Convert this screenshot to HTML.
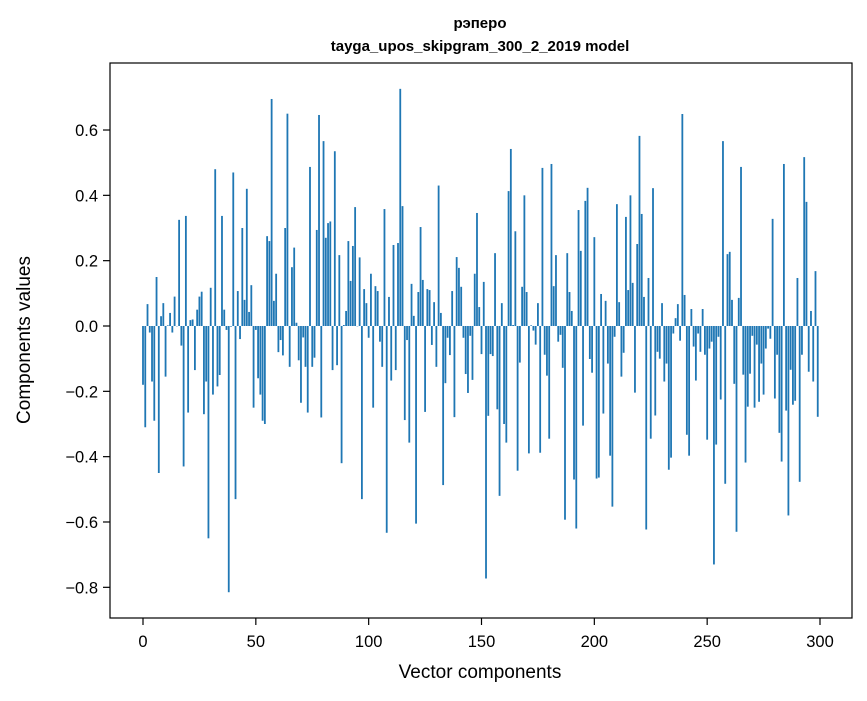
<!DOCTYPE html>
<html><head><meta charset="utf-8"><style>
body{margin:0;background:#fff;}
svg{font-family:"Liberation Sans","DejaVu Sans",sans-serif;}
</style></head><body>
<svg width="867" height="696" viewBox="0 0 867 696">
<rect width="867" height="696" fill="#fff"/>
<text x="480" y="28" text-anchor="middle" font-size="15" font-weight="bold">рэперо</text>
<text x="480" y="51" text-anchor="middle" font-size="15" font-weight="bold">tayga_upos_skipgram_300_2_2019 model</text>
<g id="bars"></g>
<g id="axes"></g>
<rect x="110" y="63" width="742" height="555" fill="none" stroke="#000" stroke-width="1.2"/>
<text x="480" y="678" text-anchor="middle" font-size="19">Vector components</text>
<text transform="translate(30,340) rotate(-90)" text-anchor="middle" font-size="19">Components values</text>
</svg>
<script>
const values = [
-0.18,-0.31,0.067,-0.02,-0.17,-0.29,0.15,-0.45,0.03,0.07,
-0.155,0.002,0.04,-0.02,0.09,0.0,0.325,-0.06,-0.43,0.337,
-0.265,0.018,0.02,-0.135,0.05,0.09,0.105,-0.27,-0.17,-0.65,
0.117,-0.21,0.48,-0.185,-0.15,0.337,0.05,-0.012,-0.815,-0.002,
0.47,-0.53,0.107,-0.04,0.30,0.08,0.42,0.043,0.125,-0.25,
-0.012,-0.16,-0.21,-0.29,-0.30,0.275,0.26,0.695,0.077,0.16,
-0.08,-0.043,-0.09,0.30,0.65,-0.125,0.18,0.24,0.01,-0.105,
-0.235,-0.035,-0.125,-0.265,0.487,-0.125,-0.097,0.294,0.646,-0.28,
0.566,0.27,0.315,0.32,-0.135,0.535,-0.12,0.217,-0.42,0.003,
0.046,0.26,0.138,0.245,0.364,0.0,0.21,-0.53,0.113,0.07,
-0.036,0.16,-0.25,0.122,0.107,-0.048,-0.125,0.358,-0.633,0.089,
-0.167,0.248,-0.135,0.254,0.726,0.367,-0.288,-0.043,-0.357,0.129,
0.031,-0.605,0.104,0.303,0.141,-0.263,0.113,0.11,-0.058,0.073,
-0.125,0.43,0.04,-0.487,-0.175,-0.036,-0.089,0.107,-0.279,0.211,
0.178,0.12,-0.036,-0.147,-0.205,-0.03,-0.165,0.16,0.346,0.058,
-0.086,0.135,-0.773,-0.275,-0.086,-0.092,0.223,-0.255,-0.52,0.07,
-0.30,-0.357,0.413,0.542,0.003,0.29,-0.443,-0.112,0.12,0.40,
0.104,-0.39,0.002,-0.014,-0.057,0.07,-0.388,0.484,-0.088,-0.152,
-0.345,0.496,0.122,0.217,-0.048,-0.027,-0.128,-0.593,0.223,0.104,
0.046,-0.47,-0.62,0.355,0.230,-0.305,0.383,0.423,-0.101,-0.143,
0.272,-0.467,-0.464,0.098,-0.268,0.077,-0.115,-0.397,-0.553,-0.033,
0.373,0.073,-0.155,-0.082,0.334,0.11,0.40,0.132,-0.204,0.251,
0.582,0.343,0.089,-0.623,0.147,-0.345,0.422,-0.274,-0.079,-0.10,
0.07,-0.17,-0.115,-0.44,-0.403,-0.023,0.024,0.067,-0.045,0.649,
0.095,-0.333,-0.397,0.052,-0.063,-0.167,-0.023,-0.079,0.052,-0.088,
-0.348,-0.069,-0.048,-0.73,-0.363,-0.033,-0.225,0.566,-0.483,0.22,
0.227,0.08,-0.177,-0.63,0.086,0.487,-0.149,-0.418,-0.247,-0.146,
-0.03,-0.25,-0.057,-0.232,-0.115,-0.21,-0.069,-0.008,-0.039,0.328,
-0.222,-0.088,-0.327,-0.415,0.496,-0.259,-0.58,-0.134,-0.241,-0.229,
0.147,-0.477,-0.088,0.517,0.38,-0.14,0.046,-0.17,0.168,-0.278
];
const xTicks = [0,50,100,150,200,250,300];
const yTicks = [0.6,0.4,0.2,0.0,-0.2,-0.4,-0.6,-0.8];
const yTickLabels = ["0.6","0.4","0.2","0.0","\u22120.2","\u22120.4","\u22120.6","\u22120.8"];

const NS="http://www.w3.org/2000/svg";
function xs(v){return 143 + v*(677/300);}
function ys(v){return 326 - v*(65.33/0.2);}
const bars=document.getElementById('bars');
const bw=0.8*(677/300);
values.forEach((v,i)=>{
  const r=document.createElementNS(NS,'rect');
  const y0=ys(0), y1=ys(v);
  r.setAttribute('x',xs(i)-bw/2);
  r.setAttribute('width',bw);
  r.setAttribute('y',Math.min(y0,y1));
  r.setAttribute('height',Math.max(Math.abs(y1-y0),0.3));
  r.setAttribute('fill','#1f77b4');
  
  
  bars.appendChild(r);
});
const axes=document.getElementById('axes');
xTicks.forEach(t=>{
  const l=document.createElementNS(NS,'line');
  l.setAttribute('x1',xs(t));l.setAttribute('x2',xs(t));
  l.setAttribute('y1',618);l.setAttribute('y2',625);
  l.setAttribute('stroke','#000');l.setAttribute('stroke-width','1.2');
  
  
  axes.appendChild(l);
  const tx=document.createElementNS(NS,'text');
  tx.setAttribute('x',xs(t));tx.setAttribute('y',647);
  tx.setAttribute('text-anchor','middle');tx.setAttribute('font-size','16.5');
  tx.textContent=t;
  
  
  axes.appendChild(tx);
});
yTicks.forEach((t,k)=>{
  const l=document.createElementNS(NS,'line');
  l.setAttribute('x1',103);l.setAttribute('x2',110);
  l.setAttribute('y1',ys(t));l.setAttribute('y2',ys(t));
  l.setAttribute('stroke','#000');l.setAttribute('stroke-width','1.2');
  
  
  axes.appendChild(l);
  const tx=document.createElementNS(NS,'text');
  tx.setAttribute('x',98);tx.setAttribute('y',ys(t)+6);
  tx.setAttribute('text-anchor','end');tx.setAttribute('font-size','16.5');
  tx.textContent=yTickLabels[k];
  
  
  axes.appendChild(tx);
});
</script>
</body></html>
